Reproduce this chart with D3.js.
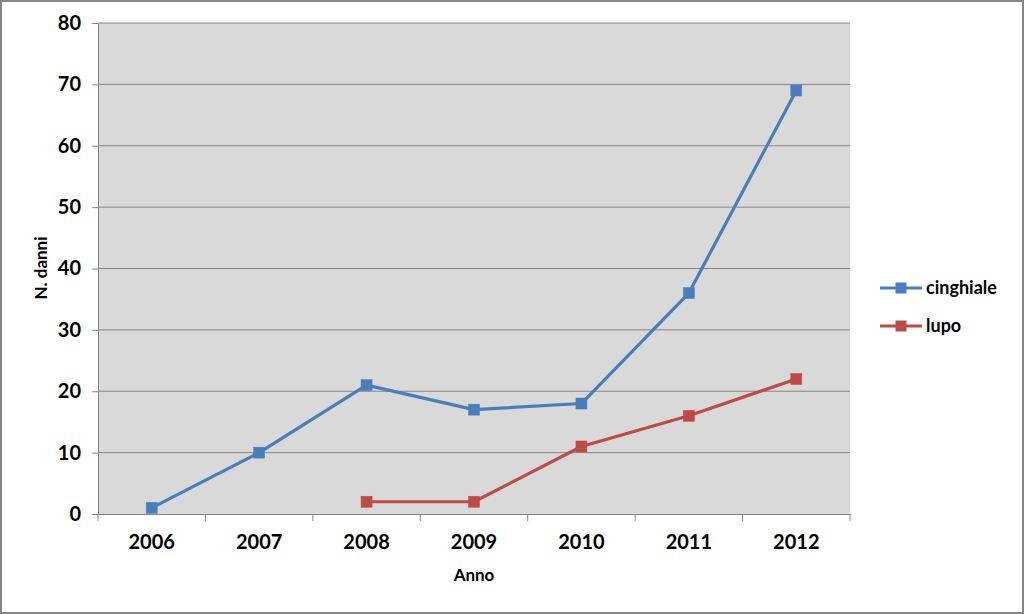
<!DOCTYPE html>
<html><head><meta charset="utf-8">
<script src="https://cdn.jsdelivr.net/npm/d3@7"></script>
<style>body{margin:0;background:#fff;} svg{display:block;font-family:Lato,"Open Sans",sans-serif;font-weight:bold;}</style>
</head><body>
<svg id="c" width="1024" height="614"></svg>
<script>
const years = ["2006","2007","2008","2009","2010","2011","2012"];
const cinghiale = [1,10,21,17,18,36,69];
const lupo = [null,null,2,2,11,16,22];
const yTicks = [0,10,20,30,40,50,60,70,80];
const seriesNames = ["cinghiale","lupo"];
const seriesColors = ["#4A7EBB","#BE4B48"];

const svg = d3.select("#c");
svg.append("rect").attr("x",1).attr("y",1).attr("width",1022).attr("height",612)
  .attr("fill","#fff").attr("stroke","#868686").attr("stroke-width",2);

const L=98,R=850,T=23,B=514;
const x = d3.scaleBand().domain(years).range([L,R]);
const y = d3.scaleLinear().domain([0,80]).range([B,T]);

svg.append("rect").attr("x",L).attr("y",T).attr("width",R-L).attr("height",B-T).attr("fill","#D9D9D9");

svg.append("g").selectAll("line").data(yTicks.filter(d=>d>0)).join("line")
  .attr("x1",L).attr("x2",R).attr("y1",d=>y(d)).attr("y2",d=>y(d))
  .attr("stroke","#868686").attr("stroke-width",1);

const ya = svg.append("g").attr("transform",`translate(${L},0)`)
  .call(d3.axisLeft(y).tickValues(yTicks).tickSize(6).tickPadding(11));
ya.select(".domain").attr("stroke","#868686");
ya.selectAll(".tick line").attr("stroke","#868686");
ya.selectAll("text").attr("font-size",20).attr("font-weight","bold").attr("fill","#000").attr("font-family","Lato,sans-serif");

const xa = svg.append("g").attr("transform",`translate(0,${B})`)
  .call(d3.axisBottom(x).tickSize(0).tickPadding(21));
xa.select(".domain").attr("stroke","#868686");
xa.selectAll("text").attr("font-size",20).attr("font-weight","bold").attr("fill","#000").attr("font-family","Lato,sans-serif");
svg.append("g").selectAll("line").data(d3.range(years.length+1)).join("line")
  .attr("x1",i=>L+i*x.step()).attr("x2",i=>L+i*x.step())
  .attr("y1",B).attr("y2",B+7).attr("stroke","#868686");

svg.append("text").attr("x",474).attr("y",581).attr("text-anchor","middle")
  .attr("font-size",17).text("Anno");
svg.append("text").attr("transform","translate(47,268) rotate(-90)").attr("text-anchor","middle")
  .attr("font-size",17).text("N. danni");

const data = [cinghiale,lupo];
const line = d3.line().defined(d=>d.v!=null).x(d=>x(d.k)+x.bandwidth()/2).y(d=>y(d.v));
data.forEach((arr,i)=>{
  const pts = years.map((k,j)=>({k,v:arr[j]}));
  svg.append("path").datum(pts).attr("d",line).attr("fill","none")
    .attr("stroke",seriesColors[i]).attr("stroke-width",3.2).attr("stroke-linejoin","round");
  svg.append("g").selectAll("rect").data(pts.filter(d=>d.v!=null)).join("rect")
    .attr("x",d=>x(d.k)+x.bandwidth()/2-5.5).attr("y",d=>y(d.v)-5.5)
    .attr("width",11).attr("height",11).attr("fill",seriesColors[i])
    .attr("stroke",seriesColors[i]).attr("stroke-width",0.5);
});

const lg = svg.append("g");
seriesNames.forEach((n,i)=>{
  const yy = 288 + i*38;
  lg.append("line").attr("x1",880).attr("x2",922).attr("y1",yy).attr("y2",yy)
    .attr("stroke",seriesColors[i]).attr("stroke-width",3.2);
  lg.append("rect").attr("x",895.5).attr("y",yy-5.5).attr("width",11).attr("height",11).attr("fill",seriesColors[i]);
  lg.append("text").attr("x",926).attr("y",yy+6).attr("font-size",18).text(n);
});
</script>
</body></html>
